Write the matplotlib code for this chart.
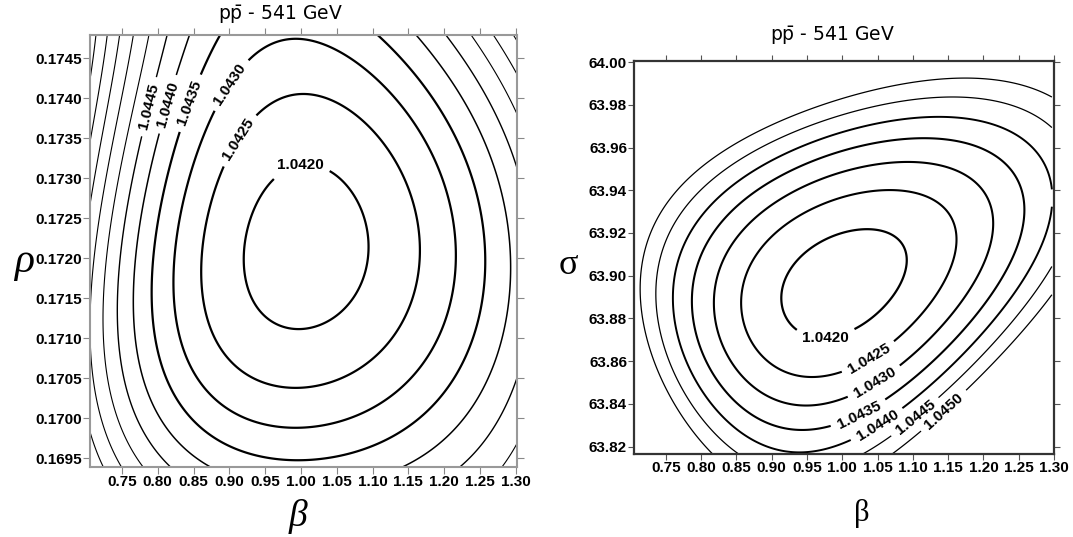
import numpy as np
import matplotlib
matplotlib.use("Agg")
import matplotlib.pyplot as plt

plt.rcParams['mathtext.fontset'] = 'dejavusans'

# chi2/dof contour points (pp - 541 GeV)
# left panel: beta vs rho
left_beta = [1.0, 0.999, 0.9215, 1.0922, 0.9552, 1.0441, 0.9263, 1.0802, 0.9455, 1.0418,
             1.0, 0.999, 0.8589, 1.162, 0.9054, 1.1107, 1.1568, 1.061, 0.8887, 1.1261,
             1.0, 0.999, 0.819, 1.214, 0.9013, 1.1107, 1.2109, 0.836, 1.1945,
             0.8966, 0.8384, 0.7869, 1.2581, 0.999, 1.1107, 1.2504, 0.7989, 1.2458,
             0.851, 0.8081, 0.7628, 1.2966, 1.1666, 0.8733, 1.1526, 1.2877, 0.777,
             0.8161, 0.7849, 1.2085, 0.8198, 1.2225, 1.3017, 0.7434,
             0.7909, 1.2434, 0.7802, 1.2713, 1.3017, 0.7253,
             0.7658, 1.2741, 0.75, 0.7057, 0.71,
             0.7462, 1.2923, 0.7243, 0.7057,
             0.7281, 0.7085, 0.7057,
             1.007]
left_rho = [0.17312, 0.17114, 0.17189, 0.17189, 0.17306, 0.17312, 0.17265, 0.17265, 0.17134, 0.17134,
            0.17409, 0.17035, 0.17189, 0.17189, 0.17352, 0.17352, 0.17235, 0.17394, 0.17110, 0.17110,
            0.17463, 0.16983, 0.17189, 0.17189, 0.17417, 0.17419, 0.17235, 0.17110, 0.17110,
            0.17479, 0.17396, 0.17189, 0.17189, 0.16940, 0.17469, 0.17235, 0.17110, 0.17110,
            0.17479, 0.17394, 0.17189, 0.17189, 0.17479, 0.16940, 0.16940, 0.17110, 0.17110,
            0.17479, 0.17390, 0.17479, 0.16940, 0.16940, 0.17032, 0.17189,
            0.17479, 0.17479, 0.16940, 0.16940, 0.16973, 0.17189,
            0.17479, 0.17479, 0.16940, 0.17052, 0.17189,
            0.17479, 0.17469, 0.16940, 0.16977,
            0.17479, 0.17479, 0.17359,
            0.17213]
left_chi = [1.0420] * 10 + [1.0425] * 10 + [1.0430] * 9 + [1.0435] * 9 + [1.0440] * 9 + \
           [1.0445] * 7 + [1.0450] * 6 + [1.0455] * 5 + [1.0460] * 4 + [1.0465, 1.0470, 1.0470] + [1.04175]

# right panel: beta vs sigma
right_beta = [1.0225, 0.9358, 0.9195, 0.9287, 0.9764, 1.0218, 1.0695, 1.0885, 1.0862, 0.9663, 0.9944,
              1.0365, 0.882, 0.8586, 0.9663, 1.0393, 1.1601, 0.9944,
              1.0881, 0.8353, 0.8188, 0.9663, 1.0463, 1.2093, 0.9944,
              1.1254, 0.7978, 0.7861, 0.9663, 1.0225, 1.2472, 0.9944,
              1.1442, 0.7721, 0.7603, 0.9663, 1.0477, 1.2753, 0.9944,
              1.1583, 0.7486, 0.7369, 0.8567, 1.0295, 1.1067, 1.2949, 1.2949, 0.9944,
              1.1723, 0.7205, 0.7135, 0.8146, 1.0772, 1.139, 1.2949, 1.2949, 0.9944,
              1.005]
right_sigma = [63.92033, 63.90325, 63.88851, 63.87630, 63.87074, 63.87312, 63.88346, 63.90255, 63.90802, 63.91191, 63.91738,
               63.93998, 63.91191, 63.88851, 63.85109, 63.86044, 63.91191, 63.93609,
               63.95322, 63.91191, 63.88851, 63.83939, 63.84968, 63.91191, 63.94779,
               63.96463, 63.91191, 63.88851, 63.82770, 63.83565, 63.91191, 63.95869,
               63.97460, 63.91191, 63.88851, 63.81927, 63.83097, 63.91191, 63.96725,
               63.98363, 63.91191, 63.88851, 63.81647, 63.81647, 63.83238, 63.96945, 63.90409, 63.97427,
               63.99223, 63.91191, 63.88851, 63.81647, 63.81647, 63.83846, 63.98442, 63.88851, 63.98208,
               63.893]
right_chi = [1.0420] * 11 + [1.0425] * 7 + [1.0430] * 7 + [1.0435] * 7 + [1.0440] * 7 + \
            [1.0445] * 9 + [1.0450] * 9 + [1.04175]

left_levels = [1.0420, 1.0425, 1.0430, 1.0435, 1.0440, 1.0445, 1.0450, 1.0455, 1.0460, 1.0465, 1.0470]
right_levels = [1.0420, 1.0425, 1.0430, 1.0435, 1.0440, 1.0445, 1.0450]

left_xticks = [0.75, 0.80, 0.85, 0.90, 0.95, 1.00, 1.05, 1.10, 1.15, 1.20, 1.25, 1.30]
left_yticks = [0.1695, 0.1700, 0.1705, 0.1710, 0.1715, 0.1720, 0.1725, 0.1730, 0.1735, 0.1740, 0.1745]
right_xticks = [0.75, 0.80, 0.85, 0.90, 0.95, 1.00, 1.05, 1.10, 1.15, 1.20, 1.25, 1.30]
right_yticks = [63.82, 63.84, 63.86, 63.88, 63.90, 63.92, 63.94, 63.96, 63.98, 64.00]

title = r'p$\bar{\mathrm{p}}$ - 541 GeV'


def fit_surface(x, y, z, xlim, ylim, deg=4, n=300):
    x = np.asarray(x); y = np.asarray(y); z = np.asarray(z)
    cx, hx = (xlim[0] + xlim[1]) / 2, (xlim[1] - xlim[0]) / 2
    cy, hy = (ylim[0] + ylim[1]) / 2, (ylim[1] - ylim[0]) / 2
    terms = [(i, j) for i in range(deg + 1) for j in range(deg + 1 - i)]
    u, v = (x - cx) / hx, (y - cy) / hy
    A = np.column_stack([u ** i * v ** j for i, j in terms])
    coef = np.linalg.lstsq(A, z, rcond=None)[0]
    gx = np.linspace(xlim[0], xlim[1], n)
    gy = np.linspace(ylim[0], ylim[1], n)
    X, Y = np.meshgrid(gx, gy)
    U, V = (X - cx) / hx, (Y - cy) / hy
    Z = sum(c * U ** i * V ** j for c, (i, j) in zip(coef, terms))
    return X, Y, Z


def style_ticks(ax, color, length):
    ax.tick_params(direction='out', length=length, color=color, top=True, right=True,
                   labeltop=False, labelright=False, pad=1)
    for lab in ax.get_xticklabels() + ax.get_yticklabels():
        lab.set_fontfamily('Liberation Sans')
        lab.set_fontsize(11)
        lab.set_fontweight('bold')


fig = plt.figure(figsize=(10.73, 5.37), dpi=100)

# ---- left panel
ax1 = fig.add_axes([0.0839, 0.1304, 0.3979, 0.8044])
xl, yl = (0.7055, 1.3017), (0.16939, 0.17479)
X, Y, Z = fit_surface(left_beta, left_rho, left_chi, xl, yl)
lw1 = [1.6, 1.6, 1.6, 1.6, 1.1, 1.0, 0.8, 0.8, 0.8, 0.8, 0.8]
cs1 = ax1.contour(X, Y, Z, levels=left_levels, colors='black', linewidths=lw1)
lab1 = [(1.0, 0.17312), (0.9054, 0.17352), (0.9013, 0.17417), (0.8384, 0.17396),
        (0.8081, 0.17394), (0.7849, 0.17390)]
txt1 = ax1.clabel(cs1, levels=left_levels[:6], manual=lab1, fmt='%.4f', inline=True,
                  fontsize=11, inline_spacing=4)
for t in txt1:
    t.set_fontfamily('Liberation Sans')
    t.set_fontweight('bold')
    if t.get_text() == '1.0420':
        t.set_rotation(0)
ax1.set_xlim(*xl)
ax1.set_ylim(*yl)
ax1.set_xticks(left_xticks)
ax1.set_xticklabels(['%.2f' % t for t in left_xticks])
ax1.set_yticks(left_yticks)
ax1.set_yticklabels(['%.4f' % t for t in left_yticks])
style_ticks(ax1, '#888888', 5)
for sp in ax1.spines.values():
    sp.set_color('#999999'); sp.set_linewidth(1.5)

# ---- right panel
ax2 = fig.add_axes([0.5909, 0.1546, 0.3914, 0.7318])
xr, yr = (0.705, 1.297), (63.8165, 64.0005)
X2, Y2, Z2 = fit_surface(right_beta, right_sigma, right_chi, xr, yr)
lw2 = [1.6, 1.5, 1.5, 1.5, 1.4, 0.9, 0.9]
cs2 = ax2.contour(X2, Y2, Z2, levels=right_levels, colors='black', linewidths=lw2)
lab2 = [(0.9764, 63.87074), (1.0393, 63.86044), (1.0463, 63.84968), (1.0225, 63.83565),
        (1.0477, 63.83097), (1.1067, 63.83238), (1.139, 63.83846)]
txt2 = ax2.clabel(cs2, levels=right_levels, manual=lab2, fmt='%.4f', inline=True,
                  fontsize=11, inline_spacing=4)
for t in txt2:
    t.set_fontfamily('Liberation Sans')
    t.set_fontweight('bold')
    if t.get_text() == '1.0420':
        t.set_rotation(0)
ax2.set_xlim(*xr)
ax2.set_ylim(*yr)
ax2.set_xticks(right_xticks)
ax2.set_xticklabels(['%.2f' % t for t in right_xticks])
ax2.set_yticks(right_yticks)
ax2.set_yticklabels(['%.2f' % t for t in right_yticks])
style_ticks(ax2, '#555555', 4)
for sp in ax2.spines.values():
    sp.set_color('#333333'); sp.set_linewidth(1.6)

# titles and axis symbols
fig.text(280 / 1073, 1 - 15 / 537, title, ha='center', va='center', fontsize=13.5)
fig.text(832 / 1073, 1 - 36 / 537, title, ha='center', va='center', fontsize=13.5)
fig.text(24 / 1073, 1 - 262 / 537, 'ρ', ha='center', va='center', fontsize=30,
         family='Liberation Serif', style='italic')
fig.text(298 / 1073, 1 - 516 / 537, 'β', ha='center', va='center', fontsize=27,
         family='Liberation Serif', style='italic')
fig.text(568 / 1073, 1 - 265 / 537, 'σ', ha='center', va='center', fontsize=26,
         family='Liberation Serif')
fig.text(862 / 1073, 1 - 514 / 537, 'β', ha='center', va='center', fontsize=22,
         family='Liberation Serif')

fig.savefig('out.png', dpi=100)
